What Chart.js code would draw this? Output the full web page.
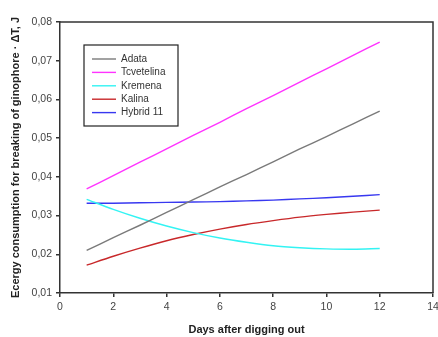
<!DOCTYPE html>
<html>
<head>
<meta charset="utf-8">
<script src="https://cdn.jsdelivr.net/npm/chart.js@4/dist/chart.umd.min.js"></script>
<style>
  html, body { margin: 0; padding: 0; background: #fff; }
  #wrap { width: 438px; height: 337px; }
</style>
</head>
<body>
<div id="wrap"><canvas id="chart" width="438" height="337"></canvas></div>
<script>
// days after digging out
const days = [1, 2, 3, 4, 5, 6, 7, 8, 9, 10, 11, 12];

// energy consumption, J
const adata      = [0.0210, 0.0243, 0.0275, 0.0308, 0.0341, 0.0374, 0.0406, 0.0439, 0.0472, 0.0504, 0.0537, 0.0570];
const tcvetelina = [0.0369, 0.0403, 0.0438, 0.0472, 0.0507, 0.0541, 0.0576, 0.0610, 0.0645, 0.0679, 0.0714, 0.0748];
const kremena    = [0.0342, 0.0316, 0.0293, 0.0273, 0.0256, 0.0242, 0.0231, 0.0222, 0.0217, 0.0214, 0.0213, 0.0215];
const kalina     = [0.0172, 0.0195, 0.0216, 0.0235, 0.0251, 0.0265, 0.0277, 0.0287, 0.0296, 0.0303, 0.0309, 0.0314];
const hybrid11   = [0.0332, 0.0332, 0.0333, 0.0334, 0.0335, 0.0336, 0.0338, 0.0340, 0.0343, 0.0346, 0.0350, 0.0354];

const seriesNames  = ['Adata', 'Tcvetelina', 'Kremena', 'Kalina', 'Hybrid 11'];
const seriesValues = [adata, tcvetelina, kremena, kalina, hybrid11];
const seriesColors = ['#7a7a7a', '#ff33ff', '#33f3f3', '#c8282a', '#3838f0'];

const xTicks = [0, 2, 4, 6, 8, 10, 12, 14];
const yTicks = [0.01, 0.02, 0.03, 0.04, 0.05, 0.06, 0.07, 0.08];

const FONT = 'Liberation Sans, Arial, sans-serif';

// frame around plot area + legend box inside it
const framePlugin = {
    id: 'frame',
    afterDraw(chart) {
        const { ctx, chartArea: a } = chart;
        ctx.save();
        ctx.strokeStyle = '#333';
        ctx.lineWidth = 1.5;
        ctx.beginPath();
        ctx.moveTo(a.left, a.top);
        ctx.lineTo(a.right, a.top);
        ctx.lineTo(a.right, a.bottom);
        ctx.stroke();

        // legend
        const bx = 84, by = 45, bw = 94, bh = 81;
        ctx.lineWidth = 1.2;
        ctx.strokeStyle = '#222';
        ctx.fillStyle = '#fff';
        ctx.fillRect(bx, by, bw, bh);
        ctx.strokeRect(bx, by, bw, bh);
        ctx.font = '10px ' + FONT;
        ctx.textBaseline = 'middle';
        chart.data.datasets.forEach((ds, i) => {
            const y = by + 14 + i * 13.4;
            ctx.strokeStyle = ds.borderColor;
            ctx.lineWidth = 1.4;
            ctx.beginPath();
            ctx.moveTo(92, y);
            ctx.lineTo(116, y);
            ctx.stroke();
            ctx.fillStyle = '#333';
            ctx.fillText(ds.label, 121, y);
        });
        ctx.restore();
    }
};

new Chart(document.getElementById('chart'), {
    type: 'line',
    data: {
        datasets: seriesNames.map((name, i) => ({
            label: name,
            data: days.map((d, j) => ({ x: d, y: seriesValues[i][j] })),
            borderColor: seriesColors[i],
            borderWidth: 1.4,
            pointRadius: 0,
            tension: 0.3,
            fill: false
        }))
    },
    options: {
        responsive: false,
        animation: false,
        layout: { padding: { top: 22, right: 5, left: 0, bottom: 0 } },
        plugins: {
            legend: { display: false },
            tooltip: { enabled: false }
        },
        scales: {
            x: {
                type: 'linear',
                min: 0,
                max: 14,
                afterBuildTicks: s => { s.ticks = xTicks.map(v => ({ value: v })); },
                afterFit: s => { s.height = 44; s.paddingLeft = 0; s.paddingRight = 0; },
                grid: { drawOnChartArea: false, tickLength: 4, color: '#333', lineWidth: 1.5 },
                border: { color: '#333', width: 1.5 },
                ticks: { color: '#444', font: { family: FONT, size: 10.5 }, padding: 4 },
                title: {
                    display: true,
                    text: 'Days after digging out',
                    color: '#222',
                    font: { family: FONT, size: 11, weight: 'bold' },
                    padding: { top: 9, bottom: 0 }
                }
            },
            y: {
                min: 0.01,
                max: 0.08,
                afterBuildTicks: s => { s.ticks = yTicks.map(v => ({ value: v })); },
                afterFit: s => { s.width = 60; },
                grid: { drawOnChartArea: false, tickLength: 4, color: '#333', lineWidth: 1.5 },
                border: { color: '#333', width: 1.5 },
                ticks: {
                    color: '#444',
                    font: { family: FONT, size: 10.5 },
                    padding: 4,
                    callback: v => v.toFixed(2).replace('.', ',')
                },
                title: {
                    display: true,
                    text: 'Ecergy consumption for breaking of ginophore · ΔT, J',
                    color: '#222',
                    font: { family: FONT, size: 11, weight: 'bold' },
                    padding: { top: 9, bottom: 0 }
                }
            }
        }
    },
    plugins: [framePlugin]
});
</script>
</body>
</html>
